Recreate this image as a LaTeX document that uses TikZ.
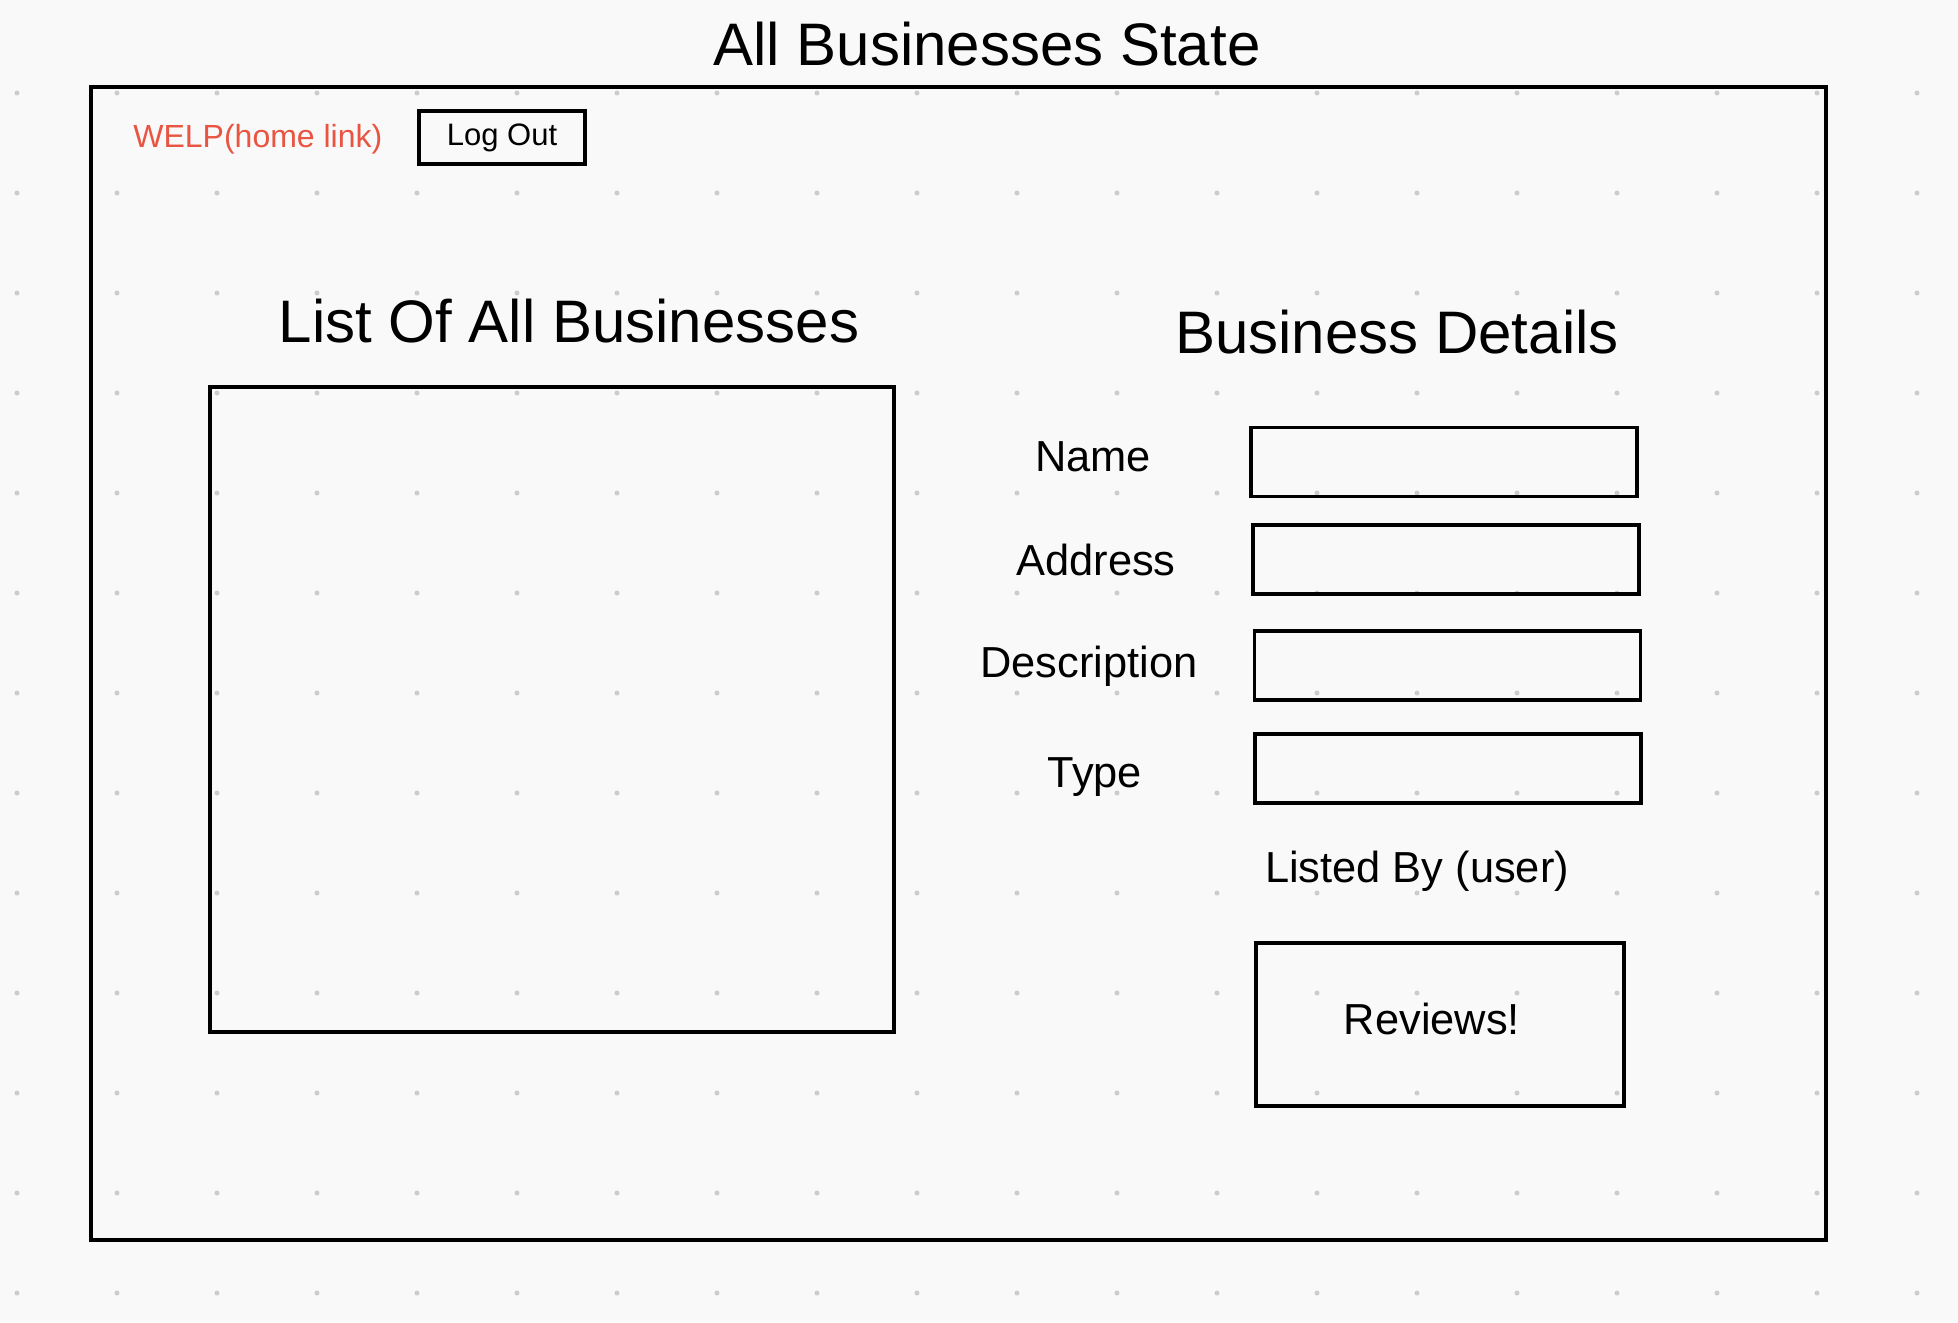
\documentclass[tikz,border=0pt]{standalone}
\usepackage{fontspec}
\setmainfont{Liberation Sans}
\definecolor{welpred}{RGB}{232,85,66}
\definecolor{griddot}{RGB}{204,204,204}
\definecolor{paper}{RGB}{249,249,249}

\begin{document}
\begin{tikzpicture}[x=0.5pt,y=-0.5pt,
  box/.style={draw,line width=1.8pt,inner sep=0pt,outer sep=0pt},
  field/.style={box,minimum width=193pt,minimum height=34.5pt},
  head/.style={font=\fontsize{30}{36}\selectfont,anchor=base,inner sep=0pt},
  lbl/.style={font=\fontsize{21.7}{26}\selectfont,anchor=base,inner sep=0pt}]
\fill[paper] (0,0) rectangle (1958,1322);
\useasboundingbox (0,0) rectangle (1958,1322);
\foreach \i in {0,...,19}
  \foreach \j in {0,...,12}
    \fill[griddot] (17+100*\i,93+100*\j) circle (2.5);
\node[head] (title) at (987,66) {All Businesses State};
\node[box,minimum width=867.5pt,minimum height=576.5pt] (frame) at (958.5,663.5) {};
\node[anchor=base west,inner sep=0pt,text=welpred,font=\fontsize{16}{19}\selectfont] (home) at (133,148) {WELP(home link)};
\node[box,minimum width=83pt,minimum height=26.5pt,font=\fontsize{15.5}{18}\selectfont] (logout) at (502,137.5) {Log Out};
\node[head] (listhead) at (569,342) {List Of All Businesses};
\node[box,minimum width=342pt,minimum height=322.5pt] (listbox) at (552,709.5) {};
\node[head] (detailhead) at (1397,353) {Business Details};
\node[lbl] (namelbl) at (1093,471) {Name};
\node[field] (namebox) at (1444,462) {};
\node[lbl] (addrlbl) at (1096,575) {Address};
\node[field] (addrbox) at (1446,559.5) {};
\node[lbl] (desclbl) at (1089,677) {Description};
\node[field] (descbox) at (1447.5,665.5) {};
\node[lbl] (typelbl) at (1095,787) {Type};
\node[field] (typebox) at (1448,768.5) {};
\node[lbl] (listedby) at (1417,882) {Listed By (user)};
\node[box,minimum width=184pt,minimum height=81.5pt] (reviews) at (1440,1024.5) {};
\node[lbl] (reviewstxt) at (1432,1034) {Reviews!};
\end{tikzpicture}
\end{document}
